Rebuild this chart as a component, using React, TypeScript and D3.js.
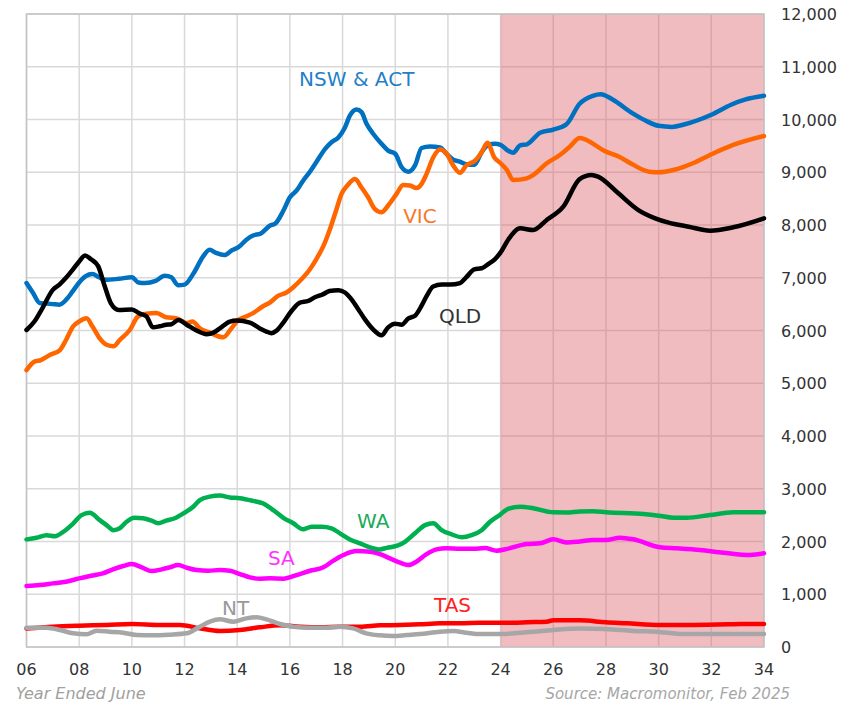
import React from "react";
import * as d3 from "d3";

// ---- data (year offsets from 2000, values = dwelling starts) ----
const xTicks = [6, 8, 10, 12, 14, 16, 18, 20, 22, 24, 26, 28, 30, 32, 34];
const yTicks = [0, 1000, 2000, 3000, 4000, 5000, 6000, 7000, 8000, 9000, 10000, 11000, 12000];
const forecastStart = 24;
const forecastEnd = 34;

const nsw: [number, number][] = [[6.0,6900],[6.25,6710],[6.5,6520],[6.75,6510],[7.0,6500],[7.25,6490],[7.5,6580],[7.75,6740],[8.0,6910],[8.25,7030],[8.5,7070],[8.75,7010],[9.0,6960],[9.5,6980],[10.0,7010],[10.25,6910],[10.5,6900],[10.9,6940],[11.25,7040],[11.5,7010],[11.75,6860],[12.0,6870],[12.35,7090],[12.7,7400],[12.95,7530],[13.2,7470],[13.5,7430],[13.8,7520],[14.05,7580],[14.35,7720],[14.6,7800],[14.9,7840],[15.25,7990],[15.45,8030],[15.75,8270],[16.0,8525],[16.25,8650],[16.5,8840],[16.76,9010],[17.0,9190],[17.33,9440],[17.58,9570],[17.84,9660],[18.09,9850],[18.28,10076],[18.53,10190],[18.72,10140],[18.91,9920],[19.16,9730],[19.48,9540],[19.73,9410],[20.0,9350],[20.24,9100],[20.5,9010],[20.75,9130],[21.0,9460],[21.32,9490],[21.7,9470],[21.95,9350],[22.2,9240],[22.45,9200],[22.7,9150],[23.0,9140],[23.28,9380],[23.53,9520],[23.78,9540],[24.0,9520],[24.25,9420],[24.48,9370],[24.74,9510],[25.0,9530],[25.5,9750],[26.0,9810],[26.5,9910],[27.0,10300],[27.5,10450],[27.8,10480],[28.25,10380],[29.0,10120],[29.5,9980],[30.0,9880],[30.5,9860],[31.0,9910],[32.0,10090],[32.75,10280],[33.3,10380],[34.0,10450]];

const vic: [number, number][] = [[6.0,5250],[6.3,5410],[6.55,5440],[6.9,5540],[7.27,5630],[7.5,5820],[7.77,6080],[8.0,6170],[8.28,6230],[8.5,6080],[8.78,5850],[9.04,5730],[9.3,5700],[9.54,5820],[9.92,6010],[10.24,6270],[10.55,6320],[10.94,6330],[11.3,6250],[11.7,6230],[12.08,6140],[12.3,6170],[12.58,6040],[12.96,5960],[13.47,5870],[13.78,6040],[14.04,6200],[14.35,6270],[14.6,6330],[14.98,6460],[15.24,6530],[15.56,6660],[15.87,6720],[16.13,6820],[16.44,6970],[16.76,7160],[17.0,7350],[17.27,7600],[17.52,7920],[17.77,8300],[17.96,8590],[18.2,8760],[18.47,8870],[18.72,8710],[18.97,8525],[19.23,8300],[19.48,8240],[19.73,8370],[20.05,8590],[20.3,8760],[20.56,8750],[20.8,8700],[21.0,8780],[21.19,8970],[21.44,9280],[21.7,9430],[21.95,9350],[22.2,9130],[22.46,8990],[22.7,9130],[23.03,9220],[23.28,9380],[23.5,9560],[23.75,9290],[24.0,9170],[24.23,9050],[24.48,8853],[24.99,8885],[25.24,8948],[25.75,9170],[26.25,9327],[26.63,9485],[27.0,9650],[28.0,9390],[28.5,9295],[29.0,9150],[29.64,9010],[30.0,9000],[30.56,9043],[31.3,9170],[31.95,9327],[32.83,9517],[34.0,9687]];

const qld: [number, number][] = [[6.0,6010],[6.3,6170],[6.6,6420],[7.0,6770],[7.25,6870],[7.5,7000],[7.75,7150],[8.0,7310],[8.22,7420],[8.45,7350],[8.72,7220],[8.97,6840],[9.2,6520],[9.5,6390],[10.0,6400],[10.3,6320],[10.55,6270],[10.8,6060],[11.05,6080],[11.3,6110],[11.5,6120],[11.76,6200],[12.08,6110],[12.45,6000],[12.84,5930],[13.1,5960],[13.34,6040],[13.72,6170],[13.97,6190],[14.48,6150],[14.86,6040],[15.11,5980],[15.3,5950],[15.5,6000],[15.75,6150],[16.06,6370],[16.38,6530],[16.7,6560],[16.95,6630],[17.27,6690],[17.5,6750],[17.84,6765],[18.09,6720],[18.34,6590],[18.6,6400],[18.85,6210],[19.16,6020],[19.48,5910],[19.73,6060],[19.99,6130],[20.24,6110],[20.5,6230],[20.75,6280],[21.0,6470],[21.2,6660],[21.44,6835],[21.76,6870],[22.08,6870],[22.46,6900],[22.7,7010],[23.0,7160],[23.28,7180],[23.53,7260],[23.78,7350],[24.0,7480],[24.3,7730],[24.74,7937],[25.24,7905],[25.75,8095],[26.38,8347],[27.0,8870],[27.45,8948],[27.7,8916],[28.47,8600],[29.23,8284],[29.87,8127],[30.38,8044],[31.14,7968],[31.95,7892],[32.83,7956],[34.0,8127]];

const wa: [number, number][] = [[6.0,2040],[6.38,2070],[6.76,2120],[7.08,2100],[7.4,2185],[7.77,2340],[8.09,2500],[8.4,2545],[8.78,2405],[9.04,2310],[9.3,2215],[9.54,2250],[9.8,2375],[10.1,2450],[10.43,2440],[10.75,2395],[11.0,2345],[11.3,2395],[11.63,2440],[12.0,2545],[12.33,2660],[12.58,2785],[12.96,2850],[13.34,2870],[13.72,2835],[14.1,2820],[14.6,2770],[14.99,2720],[15.37,2595],[15.75,2450],[16.13,2345],[16.5,2230],[16.82,2280],[17.2,2280],[17.58,2250],[17.9,2155],[18.28,2040],[18.66,1965],[19.04,1890],[19.42,1850],[19.67,1880],[20.05,1915],[20.37,1995],[20.75,2155],[21.13,2310],[21.44,2345],[21.76,2215],[22.14,2135],[22.52,2080],[22.9,2120],[23.28,2215],[23.6,2375],[24.0,2515],[24.28,2620],[24.74,2660],[25.24,2630],[26.0,2553],[26.5,2550],[27.0,2570],[27.5,2575],[28.0,2553],[29.42,2521],[30.0,2490],[30.56,2451],[31.06,2451],[31.95,2502],[32.83,2553],[34.0,2553]];

const sa: [number, number][] = [[6.0,1156],[6.5,1175],[7.0,1206],[7.5,1238],[8.0,1300],[8.45,1350],[8.9,1396],[9.28,1472],[9.67,1535],[10.0,1573],[10.38,1510],[10.75,1440],[11.13,1472],[11.44,1510],[11.76,1554],[12.08,1503],[12.46,1459],[12.9,1446],[13.34,1459],[13.72,1446],[14.1,1383],[14.48,1320],[14.86,1295],[15.24,1301],[15.75,1295],[16.25,1364],[16.76,1446],[17.27,1510],[17.65,1636],[18.03,1743],[18.53,1819],[19.04,1806],[19.42,1762],[19.8,1680],[20.18,1598],[20.5,1554],[20.8,1617],[21.19,1762],[21.57,1850],[21.95,1870],[22.46,1863],[22.96,1863],[23.4,1876],[23.85,1825],[24.25,1860],[25.0,1953],[25.5,1966],[26.0,2042],[26.5,1980],[27.0,2000],[27.52,2028],[28.0,2028],[28.53,2072],[29.04,2041],[30.05,1890],[30.69,1871],[31.57,1839],[32.46,1788],[33.47,1744],[34.0,1776]];

const tas: [number, number][] = [[6.0,350],[7.0,385],[8.0,404],[9.04,417],[10.0,436],[11.06,417],[11.82,417],[12.58,354],[13.34,303],[14.1,322],[14.86,373],[15.62,411],[16.38,385],[17.14,373],[17.9,385],[18.66,385],[19.42,411],[20.18,417],[20.94,430],[21.7,448],[22.46,448],[23.22,461],[24.0,461],[24.5,461],[25.0,470],[25.75,480],[26.0,505],[27.0,505],[28.0,468],[28.79,449],[30.05,417],[31.3,417],[32.7,430],[33.1,436],[34.0,436]];

const nt: [number, number][] = [[6.0,366],[6.76,366],[7.27,322],[7.77,259],[8.28,240],[8.66,310],[9.16,291],[9.67,272],[10.18,227],[10.81,221],[11.44,234],[12.08,259],[12.58,385],[12.96,480],[13.34,524],[13.85,480],[14.35,543],[14.73,562],[15.11,524],[15.62,436],[16.13,385],[16.76,366],[17.39,366],[17.9,385],[18.4,354],[18.9,259],[19.42,221],[19.92,208],[20.43,227],[20.94,246],[21.7,291],[22.2,303],[22.7,272],[23.22,246],[24.0,246],[25.24,291],[26.0,322],[27.0,350],[28.0,341],[29.04,303],[29.92,291],[30.93,246],[31.95,246],[34.0,246]];

const seriesNames = ["TAS", "NT", "SA", "WA", "NSW & ACT", "VIC", "QLD"];
const seriesData = [tas, nt, sa, wa, nsw, vic, qld];
const seriesColors = ["#ff0000", "#a6a6a6", "#ff00ff", "#00b050", "#0070c0", "#ff6600", "#000000"];

// label placements (in data coordinates)
const labelTexts = ["NSW & ACT", "VIC", "QLD", "WA", "SA", "NT", "TAS"];
const labelX = [16.35, 20.3, 21.66, 18.55, 15.17, 13.42, 21.47];
const labelY = [10630, 8030, 6140, 2260, 1560, 610, 660];
const labelColors = ["#1f80c8", "#f7782c", "#333333", "#1aab58", "#ff33ff", "#999999", "#ff2020"];

const W = 864;
const H = 705;
const margin = { left: 26.5, right: 100, top: 14, bottom: 58 };

export default function App() {
  const x = d3.scaleLinear().domain([6, 34]).range([margin.left, W - margin.right]);
  const y = d3.scaleLinear().domain([0, 12000]).range([H - margin.bottom, margin.top]);
  const line = d3
    .line<[number, number]>()
    .x((d) => x(d[0]))
    .y((d) => y(d[1]))
    .curve(d3.curveMonotoneX);
  const font = "'DejaVu Sans', sans-serif";
  const x0 = x(6), x1 = x(34), yTop = y(12000), yBot = y(0);

  return (
    <svg
      width={W}
      height={H}
      style={{ position: "absolute", left: 0, top: 0, background: "#fff" }}
      fontFamily={font}
    >
      {/* grid */}
      {yTicks.map((t) => (
        <line key={"gy" + t} x1={x0} x2={x1} y1={y(t)} y2={y(t)} stroke="#d9d9d9" strokeWidth={1.5} />
      ))}
      {xTicks.map((t) => (
        <line key={"gx" + t} x1={x(t)} x2={x(t)} y1={yTop} y2={yBot} stroke="#d9d9d9" strokeWidth={1.5} />
      ))}
      {/* forecast shading */}
      <rect
        x={x(forecastStart)}
        y={yTop}
        width={x(forecastEnd) - x(forecastStart)}
        height={yBot - yTop}
        fill="#da5862"
        fillOpacity={0.4}
      />
      {/* border */}
      <rect x={x0} y={yTop} width={x1 - x0} height={yBot - yTop} fill="none" stroke="#c4c4c4" strokeWidth={1.5} />
      {/* lines */}
      {seriesData.map((s, i) => (
        <path
          key={seriesNames[i]}
          d={line(s) || ""}
          fill="none"
          stroke={seriesColors[i]}
          strokeWidth={4.5}
          strokeLinejoin="round"
          strokeLinecap="round"
        />
      ))}
      {/* series labels */}
      {labelTexts.map((t, i) => (
        <text key={"lab" + t} x={x(labelX[i])} y={y(labelY[i])} fill={labelColors[i]} fontSize={20}>
          {t}
        </text>
      ))}
      {/* right axis */}
      {yTicks.map((t) => (
        <text key={"ty" + t} x={781} y={y(t) + 6} fontSize={16} fill="#333">
          {d3.format(",")(t)}
        </text>
      ))}
      {/* bottom axis */}
      {xTicks.map((t) => (
        <text key={"tx" + t} x={x(t)} y={675} fontSize={16} fill="#333" textAnchor="middle">
          {d3.format("02d")(t)}
        </text>
      ))}
      <text x={16} y={699} fontSize={16} fontStyle="italic" fill="#a0a0a0">
        Year Ended June
      </text>
      <text x={790} y={699} fontSize={15} fontStyle="italic" fill="#a6a6a6" textAnchor="end">
        Source: Macromonitor, Feb 2025
      </text>
    </svg>
  );
}
